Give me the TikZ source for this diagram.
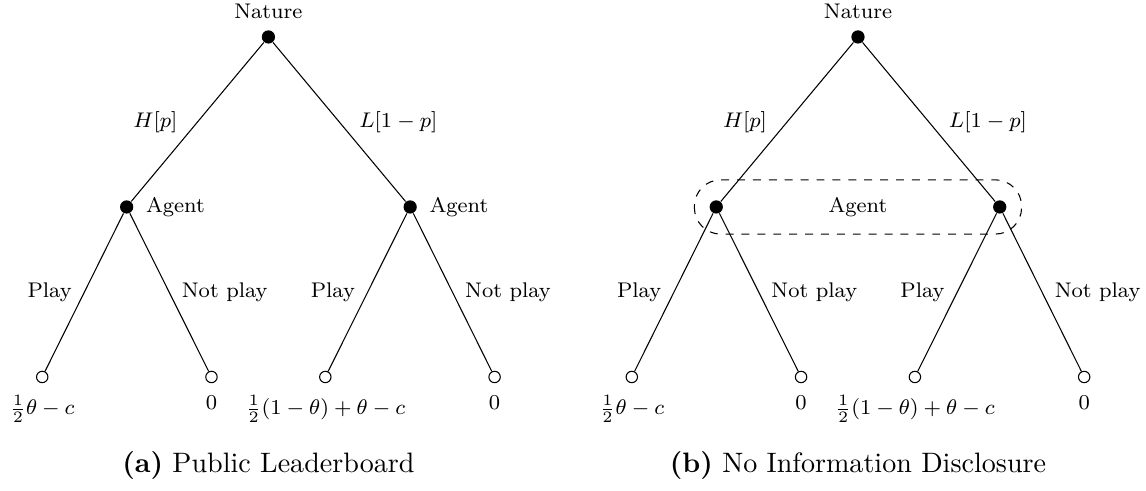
\documentclass[tikz,border=0pt]{standalone}
\usetikzlibrary{calc}

\begin{document}
\begin{tikzpicture}[scale=1,
  dot/.style={circle,fill=black,inner sep=0pt,minimum size=5pt},
  leaf/.style={circle,draw,fill=white,inner sep=0pt,minimum size=4.3pt},
  lbl/.style={inner sep=0pt,font=\footnotesize},
  subcap/.style={font=\fontsize{10.6}{13}\selectfont}]
\useasboundingbox (0,0) rectangle (15.2,6.51);
% the two trees, (a) on the left and (b) on the right
\foreach \t/\x in {a/3.56,b/11.38}{
  \node[dot] (N\t) at (\x,6.02) {};
  \node[dot] (H\t) at (\x-1.88,3.765) {};
  \node[dot] (L\t) at (\x+1.88,3.765) {};
  \node[leaf] (HP\t) at (\x-3.0,1.51) {};
  \node[leaf] (HN\t) at (\x-0.755,1.51) {};
  \node[leaf] (LP\t) at (\x+0.755,1.51) {};
  \node[leaf] (LN\t) at (\x+3.0,1.51) {};
  \node[lbl,above=0.24cm] (nat\t) at (N\t) {Nature};
  \draw (N\t)--(H\t) node[lbl,midway,left=0.26cm] {$H[p]$};
  \draw (N\t)--(L\t) node[lbl,midway,right=0.26cm] {$L[1-p]$};
  \draw (H\t)--(HP\t) node[lbl,midway,left=0.16cm] {Play};
  \draw (H\t)--(HN\t) node[lbl,midway,right=0.16cm] {Not play};
  \draw (L\t)--(LP\t) node[lbl,midway,left=0.16cm] {Play};
  \draw (L\t)--(LN\t) node[lbl,midway,right=0.16cm] {Not play};
  \node[lbl,below=0.24cm] (uHP\t) at (HP\t) {$\frac{1}{2}\theta-c$};
  \node[lbl,below=0.24cm] (uHN\t) at (HN\t) {$0$};
  \node[lbl,below=0.24cm] (uLP\t) at (LP\t) {$\frac{1}{2}(1-\theta)+\theta-c$};
  \node[lbl,below=0.24cm] (uLN\t) at (LN\t) {$0$};
}
% public leaderboard: agent sees the type
\node[lbl,right=0.25cm] (agHa) at (Ha) {Agent};
\node[lbl,right=0.25cm] (agLa) at (La) {Agent};
% no disclosure: one information set
\draw[dashed,rounded corners=0.35cm] ($(Hb)+(-0.29,0.36)$) rectangle ($(Lb)+(0.29,-0.36)$);
\node[lbl] (agb) at ($(Hb)!0.5!(Lb)$) {Agent};
\node[subcap] (capa) at (3.56,0.33) {\textbf{(a)} Public Leaderboard};
\node[subcap] (capb) at (11.38,0.33) {\textbf{(b)} No Information Disclosure};
\end{tikzpicture}
\end{document}
